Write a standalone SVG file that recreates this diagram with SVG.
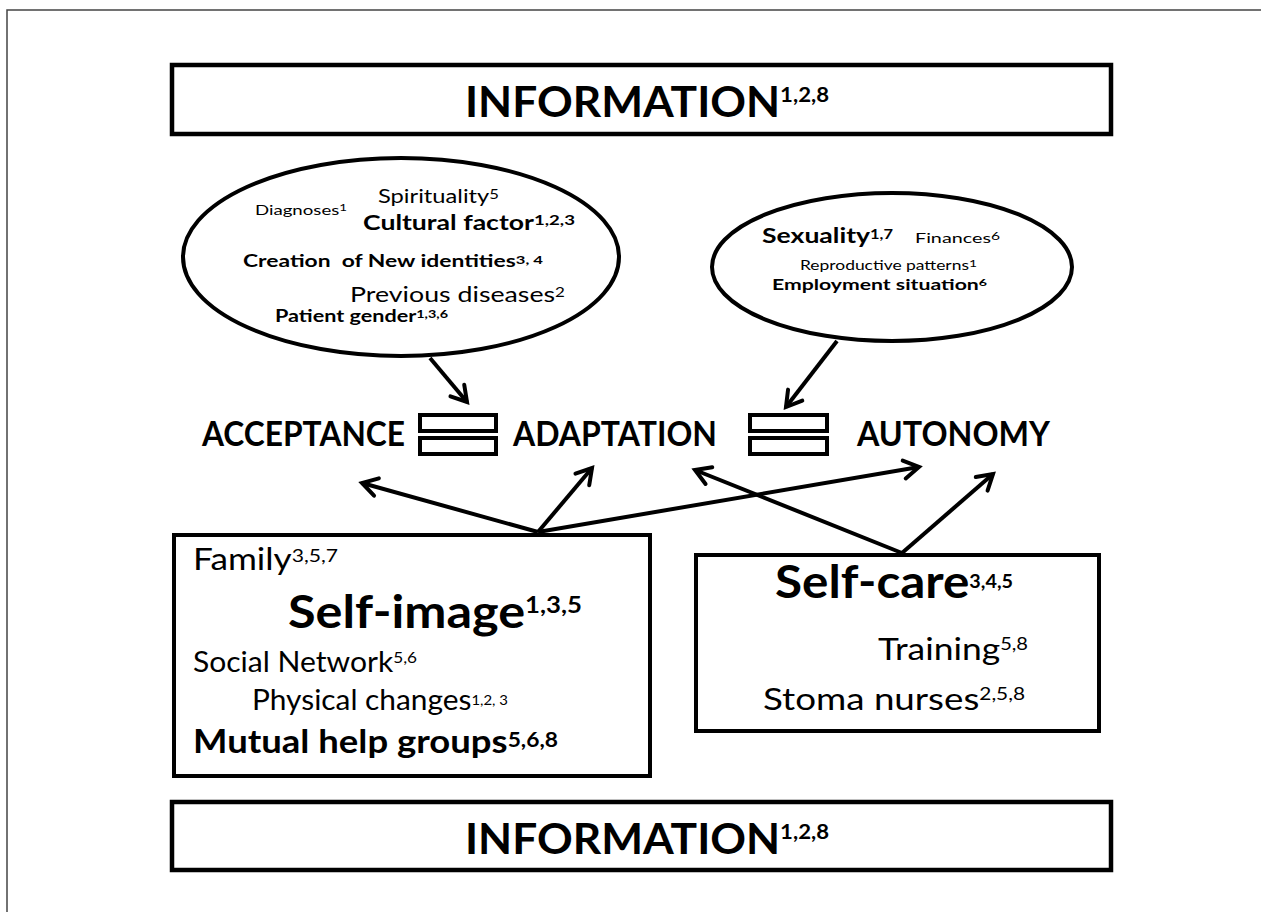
<svg xmlns="http://www.w3.org/2000/svg" width="1261" height="912" viewBox="0 0 1261 912">
<defs>
<style>
text{font-family:Lato,"Liberation Sans",sans-serif;fill:#000}
.b{font-weight:bold}
.pre{white-space:pre}
.box{fill:#fff;stroke:#000;stroke-width:4}
.ib{fill:#fff;stroke:#000;stroke-width:4.5}
.ell{fill:#fff;stroke:#000;stroke-width:4}
.eq{fill:#fff;stroke:#000;stroke-width:4}
.arr{stroke:#000;stroke-width:4;fill:none;marker-end:url(#ah)}
</style>
<marker id="ah" markerUnits="userSpaceOnUse" markerWidth="30" markerHeight="30" viewBox="-20 -15 30 30" refX="0" refY="0" orient="auto">
<path d="M-15,-9 L0,0 L-15,9" fill="none" stroke="#000" stroke-width="4" stroke-linecap="round"/>
</marker>
</defs>
<rect width="1261" height="912" fill="#fff"/>
<path d="M7,912 V10 H1261" fill="none" stroke="#444" stroke-width="1.5"/>

<g id="info-top">
<rect class="ib" x="172" y="65" width="939" height="69"/>
<text class="b" x="465" y="117" font-size="42" textLength="364" lengthAdjust="spacingAndGlyphs">INFORMATION<tspan font-size="21" dy="-15">1,2,8</tspan></text>
</g>

<g id="factors-left">
<ellipse class="ell" cx="401" cy="257" rx="218" ry="99"/>
<text x="255" y="215" font-size="14" textLength="92" lengthAdjust="spacingAndGlyphs">Diagnoses<tspan font-size="10" dy="-4">1</tspan></text>
<text x="378" y="203" font-size="18.5" textLength="121" lengthAdjust="spacingAndGlyphs">Spirituality<tspan font-size="13" dy="-4">5</tspan></text>
<text class="b" x="363" y="230" font-size="20" textLength="212" lengthAdjust="spacingAndGlyphs">Cultural factor<tspan font-size="14" dy="-5">1,2,3</tspan></text>
<text class="b pre" xml:space="preserve" x="243" y="267" font-size="16.5" textLength="300" lengthAdjust="spacingAndGlyphs">Creation  of New identities<tspan font-size="12" dy="-3">3, 4</tspan></text>
<text x="350" y="302" font-size="22" textLength="215" lengthAdjust="spacingAndGlyphs">Previous diseases<tspan font-size="14" dy="-5">2</tspan></text>
<text class="b" x="275" y="322" font-size="16.5" textLength="173" lengthAdjust="spacingAndGlyphs">Patient gender<tspan font-size="11" dy="-4">1,3,6</tspan></text>
</g>

<g id="factors-right">
<ellipse class="ell" cx="892" cy="267" rx="180" ry="74"/>
<text class="b" x="762" y="243" font-size="21" textLength="131" lengthAdjust="spacingAndGlyphs">Sexuality<tspan font-size="13" dy="-4">1,7</tspan></text>
<text x="915" y="243" font-size="14" textLength="85" lengthAdjust="spacingAndGlyphs">Finances<tspan font-size="11" dy="-3">6</tspan></text>
<text x="800" y="270" font-size="12.6" textLength="177" lengthAdjust="spacingAndGlyphs">Reproductive patterns<tspan font-size="10" dy="-3">1</tspan></text>
<text class="b" x="772" y="290" font-size="15" textLength="215" lengthAdjust="spacingAndGlyphs">Employment situation<tspan font-size="10" dy="-4">6</tspan></text>
</g>

<g id="acceptance">
<text class="b" x="202" y="446" font-size="33.5" textLength="203" lengthAdjust="spacingAndGlyphs">ACCEPTANCE</text>
</g>
<g id="equal-1">
<rect class="eq" x="420" y="415" width="76" height="16"/>
<rect class="eq" x="420" y="438" width="76" height="16"/>
</g>
<g id="adaptation">
<text class="b" x="513" y="446" font-size="33.5" textLength="204" lengthAdjust="spacingAndGlyphs">ADAPTATION</text>
</g>
<g id="equal-2">
<rect class="eq" x="750" y="415" width="77" height="16"/>
<rect class="eq" x="750" y="438" width="77" height="16"/>
</g>
<g id="autonomy">
<text class="b" x="857" y="446" font-size="33.5" textLength="193" lengthAdjust="spacingAndGlyphs">AUTONOMY</text>
</g>

<g id="self-image-box">
<rect class="box" x="174" y="535" width="476" height="241"/>
<text x="193" y="570" font-size="30" textLength="145" lengthAdjust="spacingAndGlyphs">Family<tspan font-size="18" dy="-8">3,5,7</tspan></text>
<text class="b" x="288" y="628" font-size="45" textLength="294" lengthAdjust="spacingAndGlyphs">Self-image<tspan font-size="23" dy="-15">1,3,5</tspan></text>
<text x="193" y="672" font-size="28" textLength="224" lengthAdjust="spacingAndGlyphs">Social Network<tspan font-size="16" dy="-9">5,6</tspan></text>
<text x="252" y="710" font-size="28" textLength="256" lengthAdjust="spacingAndGlyphs">Physical changes<tspan font-size="14" dy="-5">1,2, 3</tspan></text>
<text class="b" x="193" y="753" font-size="32" textLength="365" lengthAdjust="spacingAndGlyphs">Mutual help groups<tspan font-size="20" dy="-6">5,6,8</tspan></text>
</g>

<g id="self-care-box">
<rect class="box" x="696" y="555" width="403" height="176"/>
<text class="b" x="775" y="598" font-size="45" textLength="238" lengthAdjust="spacingAndGlyphs">Self-care<tspan font-size="18" dy="-10">3,4,5</tspan></text>
<text x="878" y="660" font-size="30" textLength="150" lengthAdjust="spacingAndGlyphs">Training<tspan font-size="17" dy="-10">5,8</tspan></text>
<text x="763" y="710" font-size="30" textLength="262" lengthAdjust="spacingAndGlyphs">Stoma nurses<tspan font-size="17" dy="-10">2,5,8</tspan></text>
</g>

<g id="info-bottom">
<rect class="ib" x="172" y="802" width="939" height="68"/>
<text class="b" x="465" y="854" font-size="42" textLength="364" lengthAdjust="spacingAndGlyphs">INFORMATION<tspan font-size="21" dy="-15">1,2,8</tspan></text>
</g>

<g id="connectors">
<line class="arr" x1="430" y1="358" x2="467" y2="402"/>
<line class="arr" x1="837" y1="341" x2="786" y2="407"/>
<line class="arr" x1="538" y1="532" x2="362" y2="483"/>
<line class="arr" x1="538" y1="532" x2="592" y2="468"/>
<line class="arr" x1="538" y1="532" x2="919" y2="467"/>
<line class="arr" x1="902" y1="553" x2="695" y2="470"/>
<line class="arr" x1="902" y1="553" x2="993" y2="474"/>
</g>
</svg>
